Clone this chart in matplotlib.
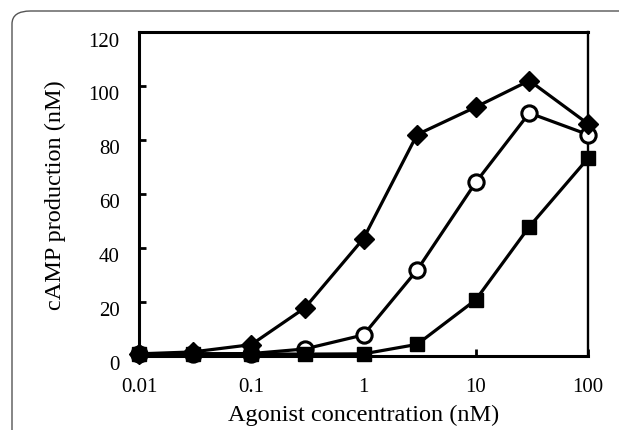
import numpy as np
import matplotlib.pyplot as plt
import matplotlib.transforms as mtransforms
from matplotlib.patches import FancyBboxPatch

# Dados
conc = [0.01, 0.03, 0.1, 0.3, 1, 3, 10, 30, 100]
diamond = [0.8, 1.5, 4.2, 17.8, 43.5, 82.0, 92.2, 102.0, 86.0]
circle = [0.8, 0.8, 0.9, 2.6, 7.8, 31.8, 64.3, 90.0, 82.0]
square = [0.8, 0.8, 0.8, 0.7, 0.8, 4.3, 20.8, 47.9, 73.2]

yticks = [0, 20, 40, 60, 80, 100, 120]
xticks = [0.01, 0.1, 1, 10, 100]
xticklabels = ["0.01", "0.1", "1", "10", "100"]

plt.rcParams['font.family'] = ['Liberation Serif', 'DejaVu Serif']

fig = plt.figure(figsize=(6.19, 4.31), dpi=100)
ax = fig.add_axes([139/619, 1 - 357/431, (588 - 139)/619, (357 - 33)/431])

# Moldura arredondada em volta da figura
frame = FancyBboxPatch((12/619, -0.2), 1.2, 1.2 - 12/431,
                       boxstyle="round,pad=0,rounding_size=0.03",
                       transform=fig.transFigure, fill=False,
                       edgecolor="#555555", linewidth=1.0, clip_on=False)
fig.patches.append(frame)

lw = 2.3
ax.plot(conc, circle, color="black", lw=lw, marker="o", ms=11,
        mfc="white", mec="black", mew=2.2, zorder=3, clip_on=False)
ax.plot(conc, diamond, color="black", lw=lw, marker="D", ms=10,
        mfc="black", mec="black", zorder=4, clip_on=False)
ax.plot(conc, square, color="black", lw=lw, marker="s", ms=9.5,
        mfc="black", mec="black", zorder=5, clip_on=False)

ax.set_xscale("log")
ax.set_xlim(0.01, 100)
ax.set_ylim(0, 120)
ax.set_xticks(xticks)
ax.set_xticklabels(xticklabels)
ax.minorticks_off()
ax.set_yticks(yticks)

ax.tick_params(axis="both", direction="in", length=5, width=2,
               labelsize=15, top=False, right=False)
ax.tick_params(axis="x", pad=15)
ax.tick_params(axis="y", pad=14)

# Rótulos do eixo y um pouco abaixo das marcas, como no original
offset = mtransforms.ScaledTranslation(0, -0.065, fig.dpi_scale_trans)
for lab in ax.get_yticklabels():
    lab.set_transform(lab.get_transform() + offset)

for side in ["left", "bottom", "top"]:
    ax.spines[side].set_linewidth(2.2)
ax.spines["right"].set_linewidth(1.7)

ax.set_xlabel("Agonist concentration (nM)", fontsize=17.5, va="center")
ax.set_ylabel("cAMP production (nM)", fontsize=17.5, va="center")
ax.xaxis.set_label_coords(0.5, (357 - 415) / 324)
ax.yaxis.set_label_coords((55 - 139) / 449, 0.5)

fig.savefig("out.png", dpi=100)
